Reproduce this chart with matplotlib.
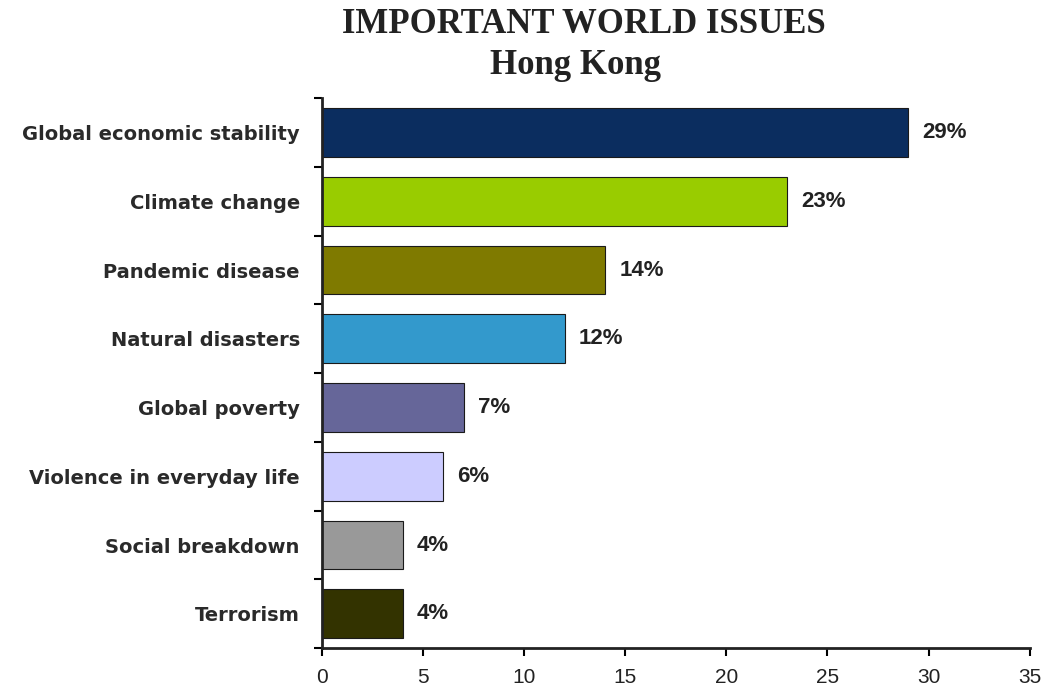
import matplotlib
matplotlib.use('Agg')
from matplotlib import pyplot as plt
import numpy as np

issues = ['Global economic stability', 'Climate change', 'Pandemic disease',
          'Natural disasters', 'Global poverty', 'Violence in everyday life',
          'Social breakdown', 'Terrorism']
share = [29, 23, 14, 12, 7, 6, 4, 4]
colors = ['#0b2d5f', '#99cc00', '#7f7a00', '#3399cc', '#666699', '#ccccff',
          '#999999', '#333300']
xticks = [0, 5, 10, 15, 20, 25, 30, 35]

plt.rcParams['font.family'] = ['Liberation Sans', 'DejaVu Sans']

fig = plt.figure(figsize=(10.56, 6.91), dpi=100)
ax = fig.add_axes([0.305, 0.062, 0.67, 0.796])

y = np.arange(len(issues))
ax.barh(y, share, height=0.71, color=colors, edgecolor='#1a1a1a', linewidth=0.8)
for yi, v in zip(y, share):
    ax.text(v + 0.7, yi, '%d%%' % v, va='center', ha='left',
            fontsize=16, fontweight='bold', color='#222222')

ax.set_ylim(len(issues) - 0.5, -0.5)
ax.set_xlim(0, 35)
ax.set_xticks(xticks)
ax.set_xticklabels([str(t) for t in xticks], fontsize=15, color='#222222')
ax.set_yticks(np.arange(len(issues) + 1) - 0.5)
ax.set_yticklabels([])
ax.set_yticks(y, minor=True)
ax.set_yticklabels(issues, minor=True, fontsize=14, fontweight='bold',
                   family='DejaVu Sans', color='#2a2a2a')
ax.tick_params(axis='y', which='minor', length=0, pad=16)
ax.tick_params(axis='y', which='major', length=6, width=1.5, direction='out')
ax.tick_params(axis='x', length=6, width=1.5, direction='out', pad=8)
for s in ['top', 'right']:
    ax.spines[s].set_visible(False)
for s in ['left', 'bottom']:
    ax.spines[s].set_linewidth(2)
    ax.spines[s].set_color('#222222')

fig.text(0.553, 0.965, 'IMPORTANT WORLD ISSUES', ha='center', va='center',
         fontsize=25, fontweight='bold', family='Liberation Serif', color='#222222')
fig.text(0.545, 0.905, 'Hong Kong', ha='center', va='center',
         fontsize=25, fontweight='bold', family='Liberation Serif', color='#222222')

fig.savefig('out.png', dpi=100)
